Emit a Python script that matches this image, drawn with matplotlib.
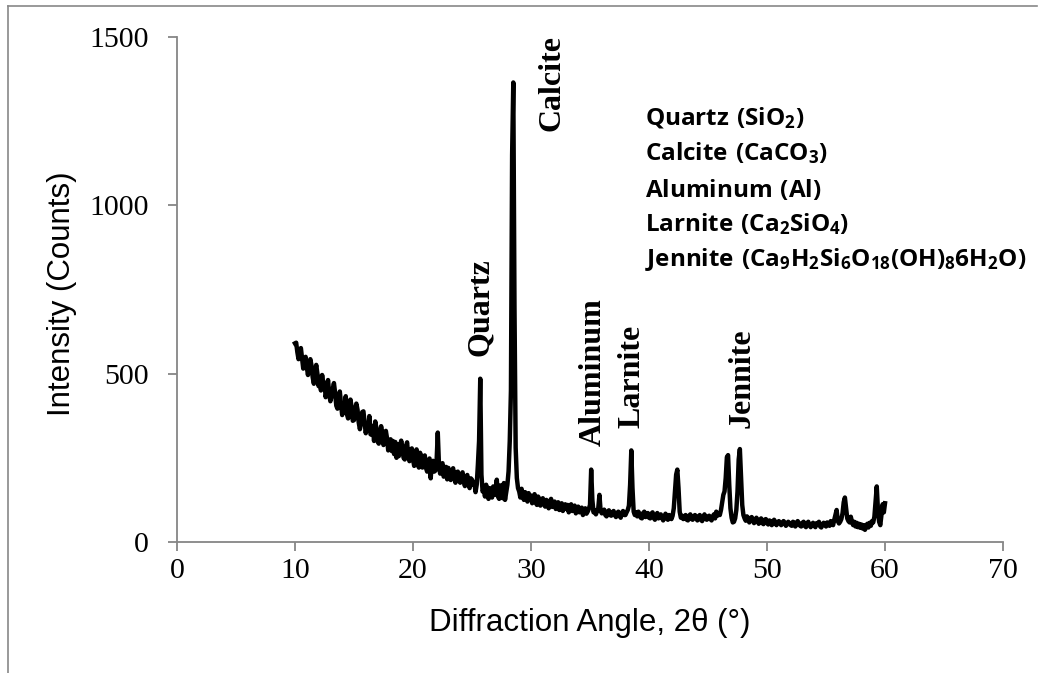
import numpy as np
import matplotlib.pyplot as plt
from matplotlib.lines import Line2D

plt.rcParams['mathtext.fontset'] = 'custom'
plt.rcParams['mathtext.rm'] = 'Open Sans:bold'
plt.rcParams['mathtext.bf'] = 'Open Sans:bold'
plt.rcParams['mathtext.it'] = 'Open Sans:bold'

# diffraction angle, 2-theta, 0.1 deg steps from 10 to 60
two_theta = np.round(np.arange(100, 601) / 10.0, 1)

# counts, one row per degree
counts = [
    590, 592, 564, 543, 570, 576, 545, 515, 530, 550,   # 10
    520, 496, 527, 543, 524, 489, 470, 505, 526, 500,   # 11
    463, 490, 450, 496, 470, 473, 430, 450, 481, 440,   # 12
    418, 434, 455, 472, 443, 405, 396, 427, 447, 410,   # 13
    377, 410, 392, 433, 380, 367, 372, 423, 400, 360,   # 14
    362, 394, 411, 393, 355, 335, 354, 386, 388, 356,   # 15
    323, 350, 330, 374, 320, 318, 345, 300, 358, 337,   # 16
    300, 292, 324, 344, 325, 288, 298, 330, 308, 272,   # 17
    288, 305, 270, 300, 261, 297, 250, 290, 255, 283,   # 18
    301, 282, 250, 245, 283, 296, 254, 240, 272, 278,   # 19
    246, 226, 257, 275, 233, 221, 265, 251, 221, 249,   # 20
    257, 220, 209, 237, 248, 189, 237, 241, 209, 212,   # 21
    240, 325, 230, 203, 226, 234, 194, 200, 223, 186,   # 22
    220, 191, 184, 210, 219, 193, 176, 207, 209, 182,   # 23
    176, 200, 207, 180, 166, 190, 199, 171, 160, 189,   # 24
    185, 170, 178, 148, 170, 230, 300, 485, 200, 150,   # 25
    158, 135, 170, 140, 128, 160, 148, 132, 165, 140,   # 26
    150, 185, 135, 128, 168, 140, 130, 175, 125, 148,   # 27
    170, 210, 300, 450, 1150, 1365, 700, 280, 190, 160,  # 28
    150, 132, 158, 140, 125, 148, 138, 120, 145, 130,   # 29
    138, 115, 130, 142, 118, 110, 135, 128, 108, 125,   # 30
    130, 112, 105, 125, 120, 100, 118, 128, 104, 110,   # 31
    120, 98, 112, 118, 95, 108, 115, 92, 100, 112,      # 32
    98, 110, 88, 104, 112, 92, 96, 108, 85, 100,        # 33
    105, 88, 96, 102, 80, 92, 100, 84, 90, 98,          # 34
    110, 215, 125, 88, 95, 82, 92, 100, 140, 92,        # 35
    85, 92, 96, 80, 76, 90, 94, 80, 78, 88,             # 36
    92, 80, 74, 86, 90, 78, 72, 86, 92, 80,             # 37
    80, 88, 95, 108, 170, 272, 160, 90, 80, 88,         # 38
    76, 90, 84, 72, 70, 86, 90, 74, 80, 86,             # 39
    72, 70, 84, 88, 72, 66, 80, 86, 70, 74,             # 40
    82, 72, 64, 76, 84, 70, 66, 80, 76, 68,             # 41
    78, 100, 150, 200, 215, 160, 90, 72, 78, 68,        # 42
    76, 80, 66, 64, 78, 82, 68, 66, 77, 80,             # 43
    70, 64, 76, 80, 66, 62, 74, 82, 68, 66,             # 44
    76, 78, 68, 64, 76, 82, 70, 90, 78, 85,             # 45
    80, 95, 118, 140, 150, 190, 252, 258, 170, 100,     # 46
    72, 58, 60, 70, 95, 150, 245, 276, 190, 110,        # 47
    80, 70, 63, 76, 72, 58, 64, 74, 68, 56,             # 48
    60, 72, 66, 54, 64, 70, 56, 53, 66, 68,             # 49
    56, 52, 64, 62, 50, 54, 66, 60, 50, 56,             # 50
    62, 58, 50, 54, 62, 58, 48, 52, 60, 56,             # 51
    50, 48, 60, 58, 46, 52, 62, 56, 48, 46,             # 52
    57, 60, 48, 44, 56, 60, 50, 44, 52, 57,             # 53
    48, 44, 56, 54, 60, 46, 43, 52, 57, 50,             # 54
    46, 58, 54, 48, 62, 56, 50, 66, 80, 95,             # 55
    62, 55, 60, 68, 85, 118, 132, 100, 70, 62,          # 56
    58, 75, 60, 50, 60, 46, 57, 44, 54, 42,             # 57
    52, 40, 50, 36, 48, 54, 43, 57, 48, 62,             # 58
    58, 75, 120, 165, 95, 60, 50, 80, 112, 88,          # 59
    115,                                                # 60
]

# phase labels: name, angle, bottom of the rotated text (counts)
phase_names = ['Quartz', 'Calcite', 'Aluminum', 'Larnite', 'Jennite']
phase_x = [25.7, 31.8, 35.3, 38.6, 47.9]
phase_y = [553, 1221, 285, 339, 339]

key_lines = [
    r'$\mathbf{Quartz\ (SiO_2)}$',
    r'$\mathbf{Calcite\ (CaCO_3)}$',
    r'$\mathbf{Aluminum\ (Al)}$',
    r'$\mathbf{Larnite\ (Ca_2SiO_4)}$',
    r'$\mathbf{Jennite\ (Ca_9H_2Si_6O_{18}(OH)_86H_2O)}$',
]

grey = '#868686'

fig = plt.figure(figsize=(10.38, 6.73), dpi=100)
ax = fig.add_axes([0.1705, 0.1947, 0.7958, 0.7503])

ax.plot(two_theta, counts, color='black', lw=3.2, solid_joinstyle='round')

ax.set_xlim(0, 70)
ax.set_ylim(0, 1500)
ax.set_xticks(range(0, 71, 10))
ax.set_yticks([0, 500, 1000, 1500])

for side in ['top', 'right']:
    ax.spines[side].set_visible(False)
for side in ['left', 'bottom']:
    ax.spines[side].set_color(grey)
    ax.spines[side].set_linewidth(1.3)

ax.tick_params(axis='both', direction='out', length=6.5, width=1.3, color=grey,
               labelsize=21.5)
ax.tick_params(axis='y', pad=14)
ax.tick_params(axis='x', pad=5)
for lab in ax.get_xticklabels() + ax.get_yticklabels():
    lab.set_fontfamily('Liberation Serif')

ax.set_xlabel('Diffraction Angle, 2θ (°)', family='Liberation Sans', fontsize=22.5,
              va='center')
ax.xaxis.set_label_coords(0.5, -0.160)
ax.set_ylabel('Intensity (Counts)', family='Liberation Sans', fontsize=22.5,
              va='center')
ax.yaxis.set_label_coords(-0.139, 0.492)

for name, px, py in zip(phase_names, phase_x, phase_y):
    ax.text(px, py, name, rotation=90, ha='center', va='bottom',
            family='Liberation Serif', fontweight='bold', fontsize=23)

for i, line in enumerate(key_lines):
    fig.text(645 / 1038, 1 - (118 + i * 35.5) / 673, line, ha='left', va='center',
             fontsize=17.5)

# outer frame of the original figure (left and top edges only)
fig.add_artist(Line2D([7.5 / 1038, 7.5 / 1038], [0, 1 - 6 / 673],
                      transform=fig.transFigure, color='#888888', lw=1.2))
fig.add_artist(Line2D([7.5 / 1038, 1037 / 1038], [1 - 6 / 673, 1 - 6 / 673],
                      transform=fig.transFigure, color='#888888', lw=1.2))

fig.savefig('out.png', dpi=100)
